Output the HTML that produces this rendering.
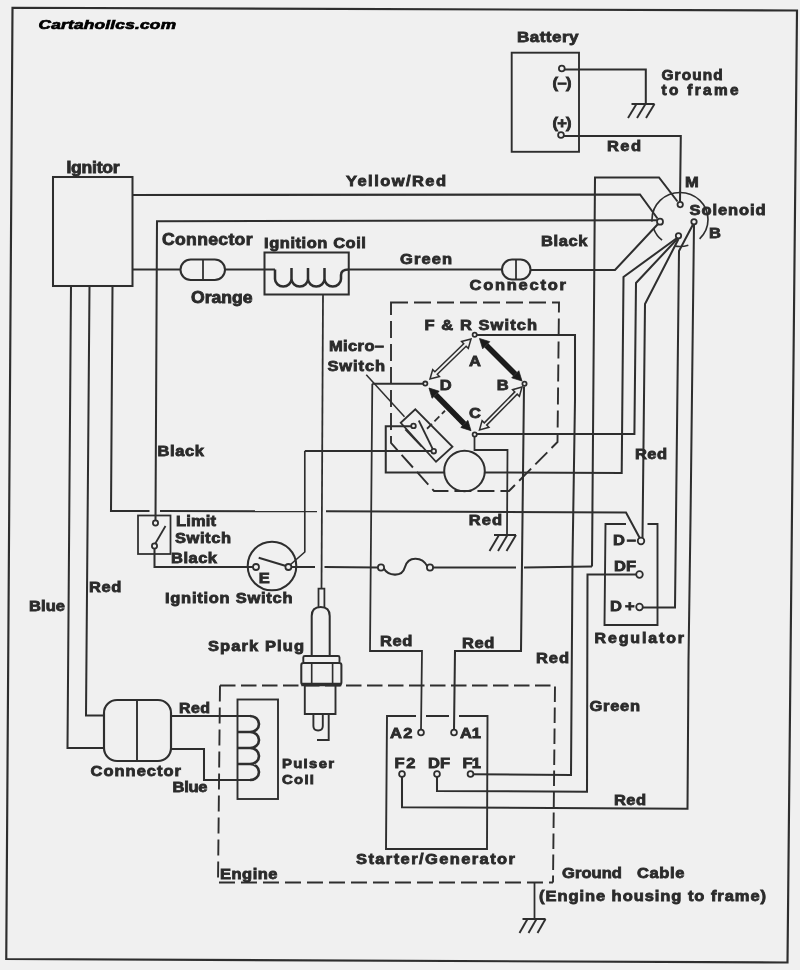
<!DOCTYPE html>
<html><head><meta charset="utf-8"><title>Wiring Diagram</title>
<style>
html,body{margin:0;padding:0;background:#f0f0f0;}
body{width:800px;height:970px;overflow:hidden;}
svg{display:block;}
text{font-family:"Liberation Sans",sans-serif;font-weight:bold;fill:#2a2a2a;stroke:#2a2a2a;stroke-width:0.8;}
</style></head>
<body>
<svg width="800" height="970" viewBox="0 0 800 970">
<defs><filter id="bl" x="0" y="0" width="800" height="970" filterUnits="userSpaceOnUse"><feGaussianBlur stdDeviation="0.55"/></filter></defs>
<g filter="url(#bl)">
<rect x="0" y="0" width="800" height="970" fill="#f0f0f0"/>
<g fill="none" stroke="#2f2f2f" stroke-linecap="butt" stroke-linejoin="miter">
<path d="M12.5 7.75 L797 10.5 L787.5 962.5 L6.25 959 Z" stroke-width="2.16"/>
<rect x="511.7" y="52.7" width="67.3" height="99.1" rx="0" stroke-width="1.91"/>
<path d="M564 69.5 L645.8 69.5 L645.8 104" stroke-width="2.03" />
<path d="M631.5 104 L654.5 104" stroke-width="2.03" />
<path d="M636.5 104 L628 118" stroke-width="1.91" />
<path d="M645.5 104 L637 118" stroke-width="1.91" />
<path d="M654.5 104 L646 118" stroke-width="1.91" />
<path d="M563.5 136 L680.8 136 L680 201.5" stroke-width="2.03" />
<circle cx="561.8" cy="68.5" r="2.9" fill="#f0f0f0" stroke-width="1.78"/>
<circle cx="561" cy="135" r="2.9" fill="#f0f0f0" stroke-width="1.78"/>
<ellipse cx="680" cy="219.5" rx="28" ry="27" stroke-width="1.65" stroke-dasharray="21.6 13 13.4 14.4 14.4 7.2 88.8 0"/>
<path d="M592 566.5 L595 177.5 L659 177.5 L677.5 201.5" stroke-width="2.03" />
<path d="M132.5 195 L640 194.5 L657.5 218.5" stroke-width="2.03" />
<path d="M155.5 520.5 L157 221.2 L657 220.2" stroke-width="2.03" />
<path d="M348.75 269.5 L502 269.5" stroke-width="2.03" />
<rect x="502" y="259.5" width="28.5" height="20" rx="10" stroke-width="2.03"/>
<path d="M516 259.5 L516 279.5" stroke-width="1.78" />
<path d="M530.5 270 L615 270 L657.5 224.5" stroke-width="2.03" />
<path d="M677 238 L623.5 277 L621.7 473 L485 472.5" stroke-width="2.03" />
<path d="M677.7 238.5 L636 283 L634.4 434 L476.5 434" stroke-width="2.03" />
<path d="M678.5 239 L645 304 L642.5 538.5" stroke-width="2.03" />
<path d="M693 224.5 L679 251 L675 607.5 L642 607.5" stroke-width="2.03" />
<path d="M694 224.5 L690.5 520 L688.5 660 L687.5 808.7 L402 807.3 L402 776.5" stroke-width="2.03" />
<circle cx="680.2" cy="204.6" r="2.7" fill="#f0f0f0" stroke-width="1.78"/>
<circle cx="660" cy="221.7" r="3" fill="#f0f0f0" stroke-width="1.78"/>
<circle cx="678.5" cy="235.8" r="2.7" fill="#f0f0f0" stroke-width="1.78"/>
<circle cx="694" cy="221.8" r="2.7" fill="#f0f0f0" stroke-width="1.78"/>
<rect x="53" y="177" width="79.5" height="109" rx="0" stroke-width="2.03"/>
<path d="M71 286 L67.5 748 L104 748" stroke-width="2.03" />
<path d="M89.5 286 L86 715.5 L104 715.5" stroke-width="2.03" />
<path d="M112.5 286 L111 511 L149.5 511" stroke-width="2.03" />
<path d="M160 511 L317 511.3" stroke-width="2.03" />
<path d="M326 511.3 L626 512.5 L640 538.5" stroke-width="2.03" />
<path d="M132.5 269.5 L180.5 269.5" stroke-width="2.03" />
<rect x="180.5" y="259.5" width="44.5" height="20.5" rx="10.2" stroke-width="2.03"/>
<path d="M203 259.5 L203 280" stroke-width="1.78" />
<path d="M225 269.5 L275 269.5" stroke-width="2.03" />
<rect x="264.5" y="252.5" width="84.25" height="42" rx="0" stroke-width="2.03"/>
<path d="M275 269.5 L275 279 A8.25 7.5 0 0 0 291.5 279 L291.5 268 M291.5 279 A8.25 7.5 0 0 0 308 279 L308 268 M308 279 A8.25 7.5 0 0 0 324.5 279 L324.5 268 M324.5 279 A8.25 7.5 0 0 0 341 279 L341 275 Q341 269.5 348.75 269.5" stroke-width="2.54" />
<path d="M323 294.5 L321.5 588.6" stroke-width="1.78" />
<rect x="138" y="515.5" width="32.5" height="38.5" rx="0" stroke-width="1.78"/>
<path d="M155 544 L165.5 526" stroke-width="1.78" />
<path d="M154.5 548.5 L154.5 567 L253 567" stroke-width="2.03" />
<circle cx="155.5" cy="523" r="2.6" fill="#f0f0f0" stroke-width="1.78"/>
<circle cx="154.5" cy="546" r="2.6" fill="#f0f0f0" stroke-width="1.78"/>
<circle cx="272" cy="566" r="24.3" stroke-width="2.03"/>
<path d="M286 566 L258.7 557.8" stroke-width="2.03" />
<path d="M291 567 L315 567" stroke-width="2.03" />
<path d="M324.5 567 L378.5 567.5" stroke-width="2.03" />
<path d="M290 565 L304.8 552 L304.8 451" stroke-width="1.65" />
<path d="M304.8 451 L431.5 451" stroke-width="2.03" />
<circle cx="256" cy="567" r="3" fill="#f0f0f0" stroke-width="1.78"/>
<circle cx="288.4" cy="567" r="3" fill="#f0f0f0" stroke-width="1.78"/>
<path d="M383.5 568 C388 576 402 578 405 567 C408 556 422 556 427.5 566.5" stroke-width="2.03" />
<circle cx="381" cy="567.5" r="3.1" fill="#f0f0f0" stroke-width="1.78"/>
<circle cx="430" cy="567.5" r="3.1" fill="#f0f0f0" stroke-width="1.78"/>
<path d="M432.5 567.5 L516 567.5" stroke-width="2.03" />
<path d="M524 567.5 L592 566.5" stroke-width="2.03" />
<path d="M366.25 374.75 L404.5 416.75" stroke-width="1.52" />
<path d="M400.75 422.75 L415.3 409.25 L452.5 446.75 L436 461.75 Z" stroke-width="1.78"/>
<path d="M405.25 429.5 L421.75 446.75" stroke-width="1.65" />
<path d="M418.75 420.5 L432.7 449" stroke-width="1.78" />
<path d="M411.3 426.2 L385.75 426.2 L385.75 472.5 L444 472.5" stroke-width="2.03" />
<circle cx="413.5" cy="425.9" r="2.3" fill="#f0f0f0" stroke-width="1.78"/>
<circle cx="433.75" cy="451.2" r="2.3" fill="#f0f0f0" stroke-width="1.78"/>
<path d="M427 428.75 L445 410.75" stroke-width="1.78" stroke-dasharray="7 3.5"/>
<path d="M391 302.5 L559 302.5 L557.5 442 L509 491 L434 491 L391 443 Z" stroke-width="1.91" stroke-dasharray="17 6"/>
<path d="M423 383.75 L372.3 383.75" stroke-width="2.16" />
<path d="M372.3 383.75 L370 651 L422 651 L421 730" stroke-width="1.78" />
<path d="M477 335 L575 335 L575 400 L572.5 560 L571 775 L473 774.3" stroke-width="2.03" />
<path d="M524 386.5 L521 651 L455 651 L454 730" stroke-width="2.03" />
<path d="M474.5 436.5 L474.5 450 L507.5 450 L507 535" stroke-width="1.78" />
<path d="M494 535 L516 535" stroke-width="2.03" />
<path d="M499 535 L489.5 551" stroke-width="1.91" />
<path d="M507.5 535 L498 551" stroke-width="1.91" />
<path d="M516 535 L506.5 551" stroke-width="1.91" />
<circle cx="464.5" cy="471" r="20.3" stroke-width="2.03"/>
<path d="M486.218 345.218 L515.282 374.282" stroke="#1c1c1c" stroke-width="5.59"/>
<path d="M479.5 338.5 L482.682 348.753 L489.753 341.682 Z" fill="#1c1c1c" stroke="#1c1c1c" stroke-width="0.76"/>
<path d="M522 381 L511.747 377.818 L518.818 370.747 Z" fill="#1c1c1c" stroke="#1c1c1c" stroke-width="0.76"/>
<path d="M435.662 394.773 L464.338 423.927" stroke="#1c1c1c" stroke-width="5.59"/>
<path d="M429 388 L432.097 398.279 L439.226 391.267 Z" fill="#1c1c1c" stroke="#1c1c1c" stroke-width="0.76"/>
<path d="M471 430.7 L460.774 427.433 L467.903 420.421 Z" fill="#1c1c1c" stroke="#1c1c1c" stroke-width="0.76"/>
<path d="M471.0 339.0 L461.6 341.5 L463.7 343.7 L434.9 371.8 L432.7 369.6 L430.0 379.0 L439.4 376.5 L437.3 374.3 L466.1 346.2 L468.3 348.4 Z" fill="#f0f0f0" stroke-width="1.52"/>
<path d="M522.0 387.0 L512.6 389.7 L514.8 391.9 L484.3 422.8 L482.1 420.6 L479.5 430.0 L488.9 427.3 L486.7 425.1 L517.2 394.2 L519.4 396.4 Z" fill="#f0f0f0" stroke-width="1.52"/>
<circle cx="474.7" cy="334.75" r="2.1" fill="#f0f0f0" stroke-width="1.78"/>
<circle cx="425.3" cy="383.6" r="2.1" fill="#f0f0f0" stroke-width="1.78"/>
<circle cx="524.5" cy="383.8" r="2.1" fill="#f0f0f0" stroke-width="1.78"/>
<circle cx="474.7" cy="434.5" r="2.1" fill="#f0f0f0" stroke-width="1.78"/>
<path d="M626 524 L605.5 524 L604.5 625 L657.5 625 L657.5 524 L647.5 524" stroke-width="1.91" />
<path d="M637 574.5 L587.5 574.5 L587 791.7 L437 791 L437 776.5" stroke-width="2.03" />
<circle cx="641" cy="541" r="3.3" fill="#f0f0f0" stroke-width="1.78"/>
<circle cx="639.5" cy="574.5" r="3.3" fill="#f0f0f0" stroke-width="1.78"/>
<circle cx="639.5" cy="607" r="3.3" fill="#f0f0f0" stroke-width="1.78"/>
<path d="M416 716 L387 716 L386 849 L487 849 L487.5 716 L459 716 M426 716 L449 716" stroke-width="1.91" />
<circle cx="421" cy="732.5" r="2.9" fill="#f0f0f0" stroke-width="1.78"/>
<circle cx="454" cy="732.5" r="2.9" fill="#f0f0f0" stroke-width="1.78"/>
<circle cx="402" cy="774" r="2.9" fill="#f0f0f0" stroke-width="1.78"/>
<circle cx="437" cy="774" r="2.9" fill="#f0f0f0" stroke-width="1.78"/>
<circle cx="470.5" cy="774" r="2.9" fill="#f0f0f0" stroke-width="1.78"/>
<path d="M220 685.5 L555 685.5 L553 882.5" stroke-width="1.91" stroke-dasharray="15.5 5.5"/>
<path d="M220 685.5 L218 882.5 L553 882.5" stroke-width="1.91" stroke-dasharray="16 6"/>
<path d="M534.5 883 L534.5 919" stroke-width="1.78" />
<path d="M522.5 919 L545.5 919" stroke-width="2.03" />
<path d="M527.5 919 L519.5 933" stroke-width="1.91" />
<path d="M536.5 919 L528.5 933" stroke-width="1.91" />
<path d="M545.5 919 L537.5 933" stroke-width="1.91" />
<rect x="104" y="700" width="67" height="61" rx="13" stroke-width="2.16"/>
<path d="M137 700 L137 761" stroke-width="1.91" />
<path d="M171 716 L250 716" stroke-width="2.03" />
<path d="M171 749 L204 749 L204 780 L250 780" stroke-width="2.03" />
<rect x="237.5" y="699.5" width="40.5" height="99.5" rx="0" stroke-width="1.91"/>
<path d="M250 716 A9 8 0 0 1 250 732 L237.5 732 M250 732 A9 8 0 0 1 250 748 L237.5 748 M250 748 A9 8 0 0 1 250 764 L237.5 764 M250 764 A9 8 0 0 1 250 780" stroke-width="2.67" />
<path d="M318.5 607 L318.5 588.6 L324.4 588.6 L324.4 607" stroke-width="1.78" />
<path d="M311.7 656 L311.7 616 Q311.7 607 320.7 607 Q329.7 607 329.7 616 L329.7 656" stroke-width="2.03" />
<rect x="303.3" y="656" width="36.2" height="7" rx="1.5" stroke-width="1.91"/>
<rect x="301.3" y="663" width="40.1" height="21.5" rx="2" stroke-width="2.03"/>
<path d="M311.7 663 L311.7 684.5" stroke-width="1.65" />
<path d="M332.6 663 L332.6 684.5" stroke-width="1.65" />
<path d="M301.3 684.5 L341.4 684.5" stroke-width="3.30" />
<path d="M304.8 684.5 L304.8 714 L335.5 714 L335.5 684.5" stroke-width="1.91" />
<path d="M313.4 714 L313.4 726 Q313.4 730.5 318.1 730.5 Q322.8 730.5 322.8 726 L322.8 714" stroke-width="1.91" />
<path d="M328.7 714 L328.7 740 L317 740" stroke-width="1.91" />
</g>
<g>
<text transform="translate(38.5 28.5) scale(1.33 1)" font-size="13" textLength="103.4" lengthAdjust="spacing" style="font-style:italic;fill:#000;stroke:#000;stroke-width:0.7">Cartaholics.com</text>
<text transform="translate(517 42) scale(1.1 1)" font-size="15.5" textLength="55.9" lengthAdjust="spacing" >Battery</text>
<text transform="translate(552.5 88) scale(1.1 1)" font-size="15" textLength="17.3" lengthAdjust="spacing" >(–)</text>
<text transform="translate(552.5 127.5) scale(1.1 1)" font-size="15" textLength="17.3" lengthAdjust="spacing" >(+)</text>
<text transform="translate(607 150.7) scale(1.1 1)" font-size="15" textLength="30.9" lengthAdjust="spacing" >Red</text>
<text transform="translate(661.5 80.3) scale(1.1 1)" font-size="14" textLength="55.7" lengthAdjust="spacing" >Ground</text>
<text transform="translate(661.5 95.2) scale(1.1 1)" font-size="14" textLength="70.0" lengthAdjust="spacing" >to frame</text>
<text transform="translate(685 187) scale(1.1 1)" font-size="15" textLength="11.8" lengthAdjust="spacing" >M</text>
<text transform="translate(689.5 214.5) scale(1.1 1)" font-size="15" textLength="69.1" lengthAdjust="spacing" >Solenoid</text>
<text transform="translate(709 237.5) scale(1.1 1)" font-size="15" textLength="9.1" lengthAdjust="spacing" >B</text>
<text transform="translate(66.5 173) scale(1.1 1)" font-size="16" textLength="48.2" lengthAdjust="spacing" >Ignitor</text>
<text transform="translate(162 245) scale(1.1 1)" font-size="16" textLength="82.3" lengthAdjust="spacing" >Connector</text>
<text transform="translate(191 302.5) scale(1.1 1)" font-size="16" textLength="55.9" lengthAdjust="spacing" >Orange</text>
<text transform="translate(264 248) scale(1.1 1)" font-size="15" textLength="92.7" lengthAdjust="spacing" >Ignition Coil</text>
<text transform="translate(346 186) scale(1.1 1)" font-size="15" textLength="90.9" lengthAdjust="spacing" >Yellow/Red</text>
<text transform="translate(400 264) scale(1.1 1)" font-size="15" textLength="47.3" lengthAdjust="spacing" >Green</text>
<text transform="translate(541 245.5) scale(1.1 1)" font-size="15" textLength="42.3" lengthAdjust="spacing" >Black</text>
<text transform="translate(469.5 290) scale(1.1 1)" font-size="15" textLength="87.7" lengthAdjust="spacing" >Connector</text>
<text transform="translate(424.5 329.5) scale(1.1 1)" font-size="15" textLength="102.3" lengthAdjust="spacing" >F &amp; R Switch</text>
<text transform="translate(329 351) scale(1.1 1)" font-size="15" textLength="50.0" lengthAdjust="spacing" >Micro–</text>
<text transform="translate(327.5 371) scale(1.1 1)" font-size="15" textLength="52.3" lengthAdjust="spacing" >Switch</text>
<text transform="translate(469 365.5) scale(1.1 1)" font-size="15" textLength="9.5" lengthAdjust="spacing" >A</text>
<text transform="translate(439.75 389.5) scale(1.1 1)" font-size="15" textLength="10.2" lengthAdjust="spacing" >D</text>
<text transform="translate(496.75 390) scale(1.1 1)" font-size="15" textLength="9.5" lengthAdjust="spacing" >B</text>
<text transform="translate(469 418.3) scale(1.1 1)" font-size="15" textLength="10.2" lengthAdjust="spacing" >C</text>
<text transform="translate(157.5 456) scale(1.1 1)" font-size="15" textLength="42.3" lengthAdjust="spacing" >Black</text>
<text transform="translate(176 526) scale(1.1 1)" font-size="15" textLength="36.4" lengthAdjust="spacing" >Limit</text>
<text transform="translate(175 542.5) scale(1.1 1)" font-size="15" textLength="50.9" lengthAdjust="spacing" >Switch</text>
<text transform="translate(171 562.5) scale(1.1 1)" font-size="15" textLength="41.8" lengthAdjust="spacing" >Black</text>
<text transform="translate(258.7 583.3) scale(1.1 1)" font-size="15" textLength="9.6" lengthAdjust="spacing" >E</text>
<text transform="translate(165 603) scale(1.1 1)" font-size="15" textLength="115.9" lengthAdjust="spacing" >Ignition Switch</text>
<text transform="translate(468.7 524.5) scale(1.1 1)" font-size="15" textLength="30.3" lengthAdjust="spacing" >Red</text>
<text transform="translate(635 459) scale(1.1 1)" font-size="15" textLength="29.1" lengthAdjust="spacing" >Red</text>
<text transform="translate(613 545) scale(1.1 1)" font-size="15" textLength="20.9" lengthAdjust="spacing" >D–</text>
<text transform="translate(614 571) scale(1.1 1)" font-size="15" textLength="20.0" lengthAdjust="spacing" >DF</text>
<text transform="translate(610 611) scale(1.1 1)" font-size="15" textLength="22.3" lengthAdjust="spacing" >D+</text>
<text transform="translate(594.5 643) scale(1.1 1)" font-size="14.5" textLength="81.4" lengthAdjust="spacing" >Regulator</text>
<text transform="translate(89 592) scale(1.1 1)" font-size="15" textLength="29.5" lengthAdjust="spacing" >Red</text>
<text transform="translate(29 611) scale(1.1 1)" font-size="15" textLength="32.7" lengthAdjust="spacing" >Blue</text>
<text transform="translate(208 650.5) scale(1.1 1)" font-size="15" textLength="87.3" lengthAdjust="spacing" >Spark Plug</text>
<text transform="translate(380 646) scale(1.1 1)" font-size="15" textLength="29.5" lengthAdjust="spacing" >Red</text>
<text transform="translate(462 647.5) scale(1.1 1)" font-size="15" textLength="29.5" lengthAdjust="spacing" >Red</text>
<text transform="translate(536 662.5) scale(1.1 1)" font-size="15" textLength="30.0" lengthAdjust="spacing" >Red</text>
<text transform="translate(589.5 711) scale(1.1 1)" font-size="15" textLength="45.9" lengthAdjust="spacing" >Green</text>
<text transform="translate(390 737.5) scale(1.1 1)" font-size="15" textLength="20.5" lengthAdjust="spacing" >A2</text>
<text transform="translate(460 737.5) scale(1.1 1)" font-size="15" textLength="19.1" lengthAdjust="spacing" >A1</text>
<text transform="translate(394.5 768) scale(1.1 1)" font-size="15" textLength="19.1" lengthAdjust="spacing" >F2</text>
<text transform="translate(428 768) scale(1.1 1)" font-size="15" textLength="20.0" lengthAdjust="spacing" >DF</text>
<text transform="translate(462.5 768) scale(1.1 1)" font-size="15" textLength="16.8" lengthAdjust="spacing" >F1</text>
<text transform="translate(614 805) scale(1.1 1)" font-size="15" textLength="29.1" lengthAdjust="spacing" >Red</text>
<text transform="translate(356 864) scale(1.1 1)" font-size="15" textLength="144.5" lengthAdjust="spacing" >Starter/Generator</text>
<text transform="translate(220 879) scale(1.1 1)" font-size="15" textLength="52.3" lengthAdjust="spacing" >Engine</text>
<text transform="translate(562 878) scale(1.1 1)" font-size="15" textLength="54.5" lengthAdjust="spacing" >Ground</text>
<text transform="translate(637 878) scale(1.1 1)" font-size="15" textLength="43.2" lengthAdjust="spacing" >Cable</text>
<text transform="translate(539 900.5) scale(1.1 1)" font-size="15" textLength="206.4" lengthAdjust="spacing" >(Engine housing to frame)</text>
<text transform="translate(179 713.2) scale(1.1 1)" font-size="14.5" textLength="28.2" lengthAdjust="spacing" >Red</text>
<text transform="translate(172.5 791.7) scale(1.1 1)" font-size="15" textLength="31.8" lengthAdjust="spacing" >Blue</text>
<text transform="translate(90.5 776) scale(1.1 1)" font-size="15" textLength="82.3" lengthAdjust="spacing" >Connector</text>
<text transform="translate(282 767.5) scale(1.1 1)" font-size="13.5" textLength="47.3" lengthAdjust="spacing" >Pulser</text>
<text transform="translate(282 783.5) scale(1.1 1)" font-size="13.5" textLength="29.1" lengthAdjust="spacing" >Coil</text>
</g>
</g>
</svg>
</body></html>
